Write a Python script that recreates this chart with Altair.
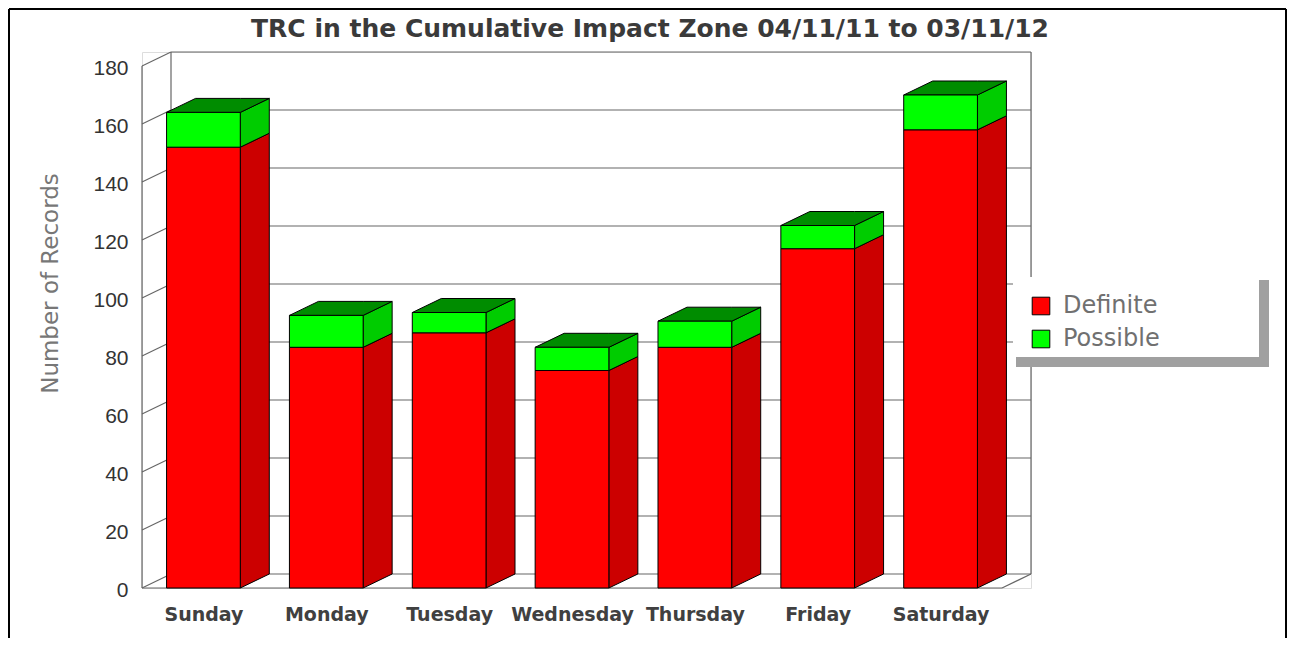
import altair as alt
import pandas as pd

# ---------------- data ----------------
days = ["Sunday", "Monday", "Tuesday", "Wednesday", "Thursday", "Friday", "Saturday"]
definite = [152, 83, 88, 75, 83, 117, 158]
possible = [12, 11, 7, 8, 9, 8, 12]
segments = ["Definite", "Possible"]
y_ticks = [0, 20, 40, 60, 80, 100, 120, 140, 160, 180]
title_text = "TRC in the Cumulative Impact Zone 04/11/11 to 03/11/12"

# ---------------- geometry (3D look) ----------------
PX_X = 122.85           # px per category step
PX_Y = 2.9              # px per record
DX = 29 / PX_X          # depth offset in x units
DY = 14 / PX_Y          # depth offset in y units
X_MIN = -0.5
X_FRONT_MAX = len(days) - 0.5
X_MAX = X_FRONT_MAX + DX
Y_TOP = 180
HALF = 0.3
W = round((X_MAX - X_MIN) * PX_X)
H = round((Y_TOP + DY) * PX_Y)

xs = alt.Scale(domain=[X_MIN, X_MAX], nice=False, zero=False)
ys = alt.Scale(domain=[0, Y_TOP + DY], nice=False, zero=False)

front_rows, side_rows, top_rows = [], [], []
for i, d in enumerate(days):
    vals = [definite[i], possible[i]]
    lo = 0
    xl, xr = i - HALF, i + HALF
    for s, v in zip(segments, vals):
        hi = lo + v
        front_rows.append(dict(day=d, seg=s, xl=xl, xr=xr, lo=lo, hi=hi))
        key = f"{i}-{s}"
        side_rows.append(dict(key=key, seg=s, x=xr, y=hi, y2=lo))
        side_rows.append(dict(key=key, seg=s, x=xr + DX, y=hi + DY, y2=lo + DY))
        lo = hi
    t = lo
    key = f"top-{i}"
    top_rows += [
        dict(key=key, x=xl, y=t, y2=t),
        dict(key=key, x=xl + DX, y=t + DY, y2=t),
        dict(key=key, x=xr, y=t + DY, y2=t),
        dict(key=key, x=xr + DX, y=t + DY, y2=t + DY),
    ]
front_df = pd.DataFrame(front_rows)
side_df = pd.DataFrame(side_rows)
top_df = pd.DataFrame(top_rows)

wall_rows = []
for v in y_ticks:
    wall_rows.append(dict(x=X_MIN + DX, x2=X_MAX, y=v + DY, y2=v + DY))
    wall_rows.append(dict(x=X_MIN, x2=X_MIN + DX, y=v, y2=v + DY))
wall_rows += [
    dict(x=X_MIN + DX, x2=X_MIN + DX, y=DY, y2=Y_TOP + DY),
    dict(x=X_MAX, x2=X_MAX, y=DY, y2=Y_TOP + DY),
    dict(x=X_MIN, x2=X_MIN, y=0, y2=Y_TOP),
    dict(x=X_MIN, x2=X_FRONT_MAX, y=0, y2=0),
    dict(x=X_FRONT_MAX, x2=X_MAX, y=0, y2=DY),
]
wall_df = pd.DataFrame(wall_rows)

label_expr = "[" + ",".join(f"'{d}'" for d in days) + "][datum.value]"

x_axis = alt.Axis(
    values=list(range(len(days))), labelExpr=label_expr, title=None,
    labelFont="DejaVu Sans", labelFontWeight="bold", labelFontSize=19,
    labelColor="#404040", labelPadding=17, ticks=False, domain=False,
    grid=False, labelOverlap=False, labelFlush=False, zindex=1)
y_axis = alt.Axis(
    values=y_ticks, title="Number of Records", titleFont="DejaVu Sans",
    titleFontSize=23, titleFontWeight="normal", titleColor="#777777",
    titleAngle=270, titleX=-92, titleY=231, titleAlign="center",
    titleBaseline="middle", labelFont="Liberation Sans", labelFontSize=21,
    labelColor="#333333", labelPadding=14, labelOffset=2, ticks=False,
    domain=False, grid=False, zindex=1)

walls = alt.Chart(wall_df).mark_rule(color="#666666", strokeWidth=1.2).encode(
    x=alt.X("x:Q", scale=xs, axis=x_axis),
    x2="x2:Q",
    y=alt.Y("y:Q", scale=ys, axis=y_axis),
    y2="y2:Q",
)

def side_layer(seg, colour):
    return alt.Chart(side_df).transform_filter(alt.datum.seg == seg).mark_area(
        stroke="black", strokeWidth=1, color=colour, opacity=1).encode(
        x=alt.X("x:Q", scale=xs, axis=x_axis),
        y=alt.Y("y:Q", scale=ys, axis=y_axis, stack=None),
        y2="y2:Q",
        detail="key:N",
    )

sides_def = side_layer("Definite", "#cc0000")
sides_pos = side_layer("Possible", "#00cc00")

tops = alt.Chart(top_df).mark_area(stroke="black", strokeWidth=1, color="#008c00", opacity=1).encode(
    x=alt.X("x:Q", scale=xs, axis=x_axis),
    y=alt.Y("y:Q", scale=ys, axis=y_axis, stack=None),
    y2="y2:Q",
    detail="key:N",
)

fronts = alt.Chart(front_df).mark_rect(stroke="black", strokeWidth=1).encode(
    x=alt.X("xl:Q", scale=xs, axis=x_axis),
    x2="xr:Q",
    y=alt.Y("lo:Q", scale=ys, axis=y_axis),
    y2="hi:Q",
    color=alt.Color("seg:N", scale=alt.Scale(domain=segments, range=["#ff0000", "#00ff00"]),
                    legend=alt.Legend(
                        title=None, orient="none", legendX=887, legendY=242,
                        symbolType="square", symbolSize=310, symbolStrokeColor="black",
                        symbolStrokeWidth=1, symbolOpacity=1, labelFont="DejaVu Sans",
                        labelFontSize=24, labelColor="#707070", labelOffset=10,
                        rowPadding=9, padding=0, zindex=2)),
)

one = pd.DataFrame({"a": [0]})
legend_box = alt.Chart(one).mark_rect(fill="white").encode(
    x=alt.value(871), x2=alt.value(1117), y=alt.value(225), y2=alt.value(305))
shadow_r = alt.Chart(one).mark_rect(fill="#a0a0a0").encode(
    x=alt.value(1117), x2=alt.value(1127), y=alt.value(228), y2=alt.value(315))
shadow_b = alt.Chart(one).mark_rect(fill="#a0a0a0").encode(
    x=alt.value(874), x2=alt.value(1127), y=alt.value(305), y2=alt.value(315))
frame_l = alt.Chart(one).mark_rule(color="black", strokeWidth=2).encode(
    x=alt.value(-133), y=alt.value(-43), y2=alt.value(586))
frame_r = alt.Chart(one).mark_rule(color="black", strokeWidth=2).encode(
    x=alt.value(1144), y=alt.value(-43), y2=alt.value(586))
frame_t = alt.Chart(one).mark_rule(color="black", strokeWidth=2).encode(
    x=alt.value(-133), x2=alt.value(1144), y=alt.value(-43))
title = alt.Chart(pd.DataFrame({"t": [title_text]})).mark_text(
    font="DejaVu Sans", fontSize=25, fontWeight="bold", color="#3a3a3a",
    align="center", baseline="alphabetic").encode(
    text="t:N", x=alt.value(508), y=alt.value(-15))

chart = alt.layer(walls, sides_def, sides_pos, tops, fronts, legend_box, shadow_r,
                  shadow_b, frame_l, frame_r, frame_t, title).properties(
    width=W, height=H,
    padding=0,
).configure_view(stroke=None).configure(background="white")

chart.save("out.html", embed_options={"renderer": "svg", "actions": False})
